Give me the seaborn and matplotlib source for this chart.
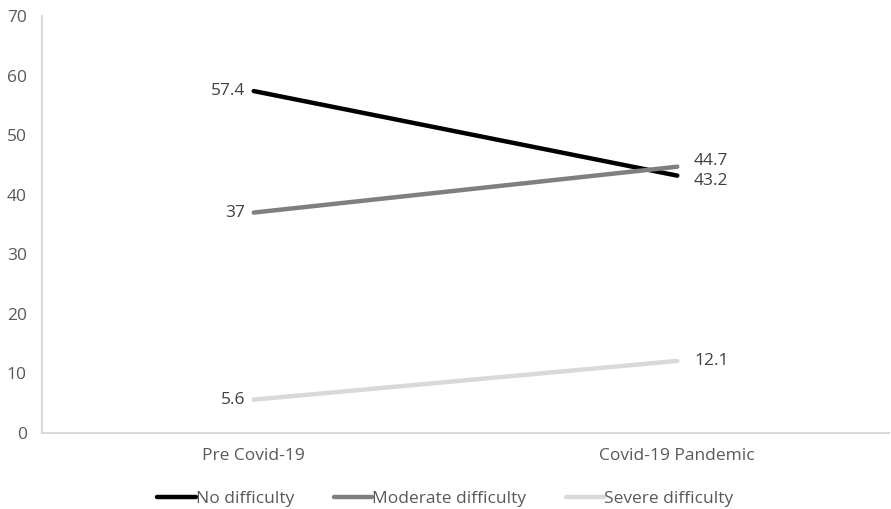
import matplotlib
matplotlib.use("Agg")
import matplotlib.pyplot as plt
import seaborn as sns
import pandas as pd

periods = ["Pre Covid-19", "Covid-19 Pandemic"]
no_difficulty = [57.4, 43.2]
moderate_difficulty = [37, 44.7]
severe_difficulty = [5.6, 12.1]
series_names = ["No difficulty", "Moderate difficulty", "Severe difficulty"]
series_colors = ["#000000", "#7f7f7f", "#d9d9d9"]
y_ticks = [0, 10, 20, 30, 40, 50, 60, 70]

rows = []
for name, vals in zip(series_names, [no_difficulty, moderate_difficulty, severe_difficulty]):
    for i, (p, v) in enumerate(zip(periods, vals)):
        rows.append({"period": i, "label": p, "value": v, "series": name})
df = pd.DataFrame(rows)

sns.set_style("white")
plt.rcParams["font.family"] = ["Open Sans", "DejaVu Sans"]

fig = plt.figure(figsize=(8.91, 5.09), dpi=100)
ax = fig.add_axes([0.0471, 0.1493, 0.9507, 0.8193])

sns.lineplot(data=df, x="period", y="value", hue="series", hue_order=series_names,
             palette=series_colors, linewidth=3.2, ax=ax, legend=False)

# value labels: left point labels sit to the left, right point labels to the right
text_color = "#404040"
for name, vals in zip(series_names, [no_difficulty, moderate_difficulty, severe_difficulty]):
    ax.annotate(f"{vals[0]:g}", (0, vals[0]), xytext=(-6, 0), textcoords="offset points",
                ha="right", va="center", fontsize=12.5, color=text_color)
    dy = 0
    if name == "Moderate difficulty":
        dy = 4
    elif name == "No difficulty":
        dy = -4
    ax.annotate(f"{vals[1]:g}", (1, vals[1]), xytext=(12, dy), textcoords="offset points",
                ha="left", va="center", fontsize=12.5, color=text_color)

ax.set_xlim(-0.5, 1.5)
ax.set_ylim(0, 70)
ax.set_yticks(y_ticks)
ax.set_xticks([0, 1])
ax.set_xticklabels(periods)
ax.set_xlabel("")
ax.set_ylabel("")
ax.tick_params(axis="both", length=0, labelsize=12.5, labelcolor="#595959")
ax.tick_params(axis="y", pad=11)
ax.tick_params(axis="x", pad=11)

for side in ["top", "right"]:
    ax.spines[side].set_visible(False)
for side in ["left", "bottom"]:
    ax.spines[side].set_color("#d9d9d9")
    ax.spines[side].set_linewidth(1.5)

handles = [plt.Line2D([0], [0], color=c, linewidth=3.2) for c in series_colors]
fig.legend(handles, series_names, loc="center", bbox_to_anchor=(0.5, 0.02),
           ncol=3, frameon=False, fontsize=12.5, handlelength=2.2, handletextpad=0.0,
           columnspacing=2.3, labelcolor="#595959")

fig.savefig("out.png", dpi=100)
